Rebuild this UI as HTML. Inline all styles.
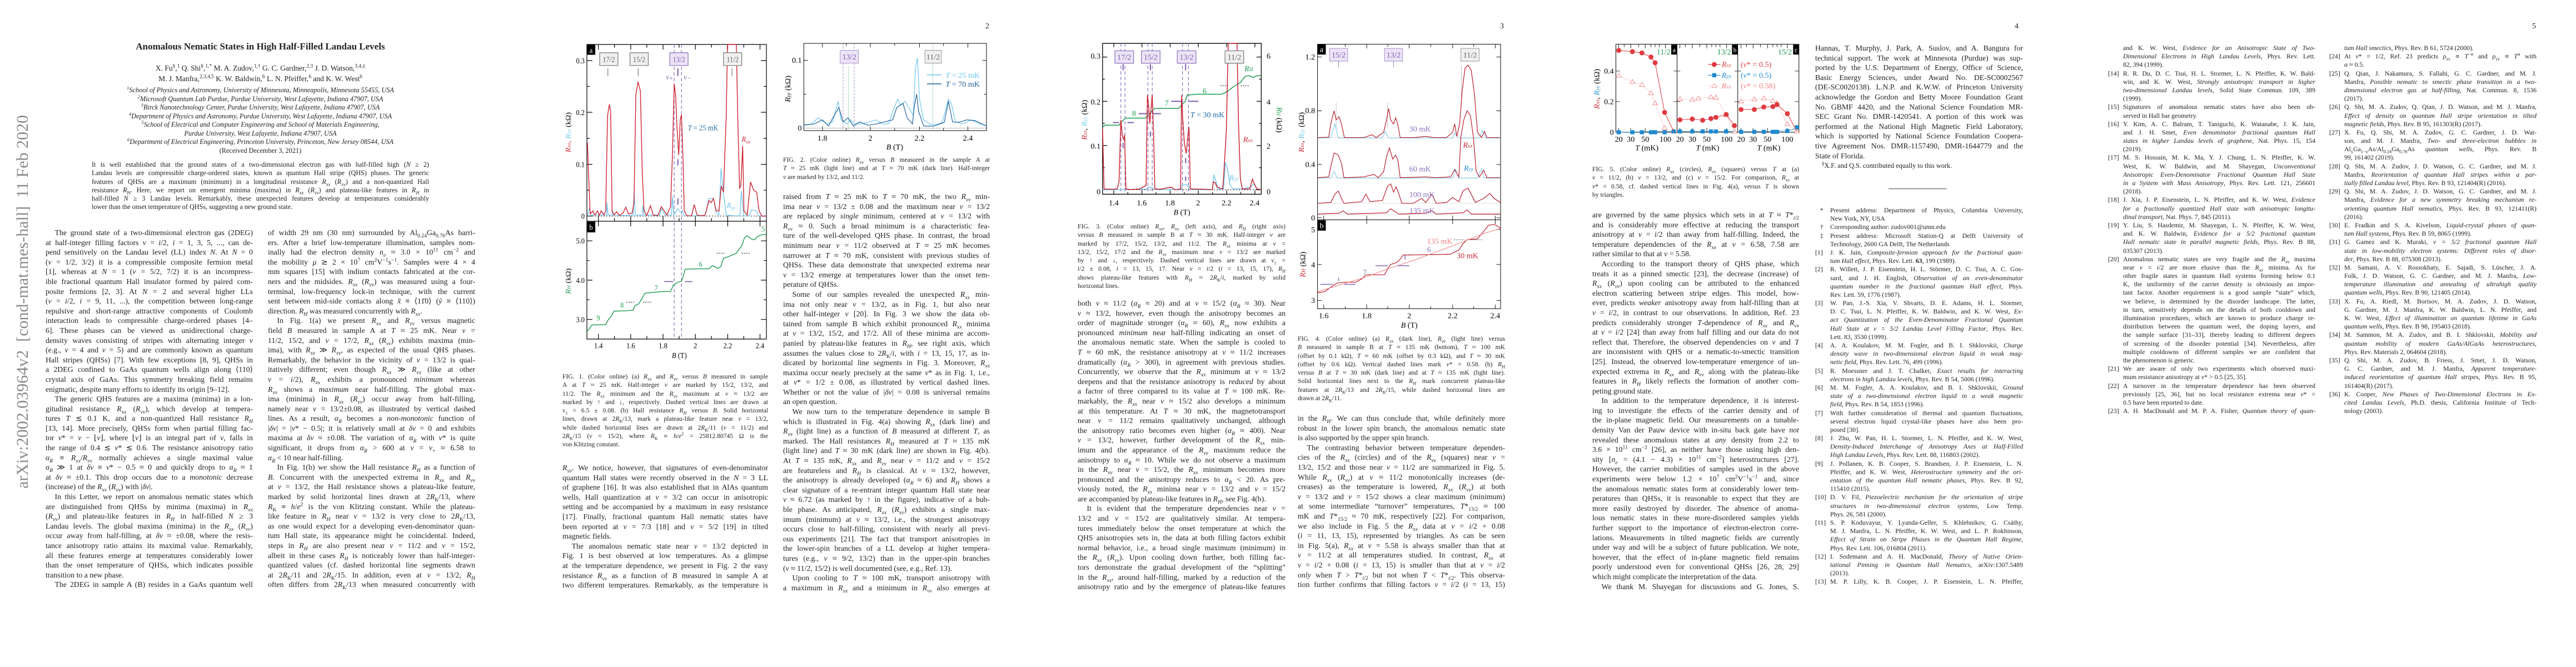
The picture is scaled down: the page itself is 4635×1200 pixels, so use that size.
<!DOCTYPE html>
<html><head><meta charset="utf-8">
<style>
*{margin:0;padding:0;box-sizing:border-box}
html,body{width:4635px;height:1200px;background:#fff;overflow:hidden}
body{position:relative;font-family:"Liberation Serif",serif;color:#222}
.c{position:absolute;font-size:13.8px}
.c div{text-align:justify;text-align-last:justify;overflow:hidden;white-space:normal}
.c div.l{text-align-last:left}
.c div.i{text-indent:1.2em}
.cap{position:absolute;font-size:11.6px}
.cap div{text-align:justify;text-align-last:justify;height:15.3px;line-height:15.3px;overflow:hidden}
.cap div.l{text-align-last:left}
.r{position:absolute;font-size:11.8px}
.r div{text-align:justify;text-align-last:justify;overflow:hidden;padding-left:27px;position:relative}
.r div.l{text-align-last:left}
.r div b{font-weight:normal;position:absolute;left:0;top:0}
sub,sup{font-size:70%;line-height:0}
.pn{position:absolute;top:40px;font-size:14px}
svg{position:absolute;overflow:visible}
svg text{font-family:"Liberation Serif",serif}
</style></head><body>

<!-- arXiv stamp -->
<div style="position:absolute;left:41px;top:543px;transform:translate(-50%,-50%) rotate(-90deg);white-space:nowrap;font-size:30px;color:#8a8a8a">arXiv:2002.03964v2&nbsp; [cond-mat.mes-hall]&nbsp; 11 Feb 2020</div>

<!-- PAGE 1 header -->
<div style="position:absolute;left:82px;width:773px;top:74px;text-align:center;font-weight:bold;font-size:17px">Anomalous Nematic States in High Half-Filled Landau Levels</div>
<div style="position:absolute;left:82px;width:773px;top:113px;text-align:center;font-size:13.5px;line-height:19px">X. Fu<sup>§</sup>,<sup>1</sup> Q. Shi<sup>§</sup>,<sup>1,*</sup> M. A. Zudov,<sup>1,†</sup> G. C. Gardner,<sup>2,3</sup> J. D. Watson,<sup>3,4,‡</sup><br>M. J. Manfra,<sup>2,3,4,5</sup> K. W. Baldwin,<sup>6</sup> L. N. Pfeiffer,<sup>6</sup> and K. W. West<sup>6</sup></div>
<div style="position:absolute;left:82px;width:773px;top:155px;text-align:center;font-size:12.3px;line-height:15.5px;font-style:italic"><sup>1</sup>School of Physics and Astronomy, University of Minnesota, Minneapolis, Minnesota 55455, USA<br><sup>2</sup>Microsoft Quantum Lab Purdue, Purdue University, West Lafayette, Indiana 47907, USA<br><sup>3</sup>Birck Nanotechnology Center, Purdue University, West Lafayette, Indiana 47907, USA<br><sup>4</sup>Department of Physics and Astronomy, Purdue University, West Lafayette, Indiana 47907, USA<br><sup>5</sup>School of Electrical and Computer Engineering and School of Materials Engineering,<br>Purdue University, West Lafayette, Indiana 47907, USA<br><sup>6</sup>Department of Electrical Engineering, Princeton University, Princeton, New Jersey 08544, USA<br><span style="font-style:normal">(Received December 3, 2021)</span></div>
<div class="cap" style="left:165px;width:607px;top:289px;font-size:12.2px">
<div>It is well established that the ground states of a two-dimensional electron gas with half-filled high (<i>N</i> ≥ 2)</div>
<div>Landau levels are compressible charge-ordered states, known as quantum Hall stripe (QHS) phases. The generic</div>
<div>features of QHSs are a maximum (minimum) in a longitudinal resistance <i>R<sub>xx</sub></i> (<i>R<sub>yy</sub></i>) and a non-quantized Hall</div>
<div>resistance <i>R<sub>H</sub></i>. Here, we report on emergent minima (maxima) in <i>R<sub>xx</sub></i> (<i>R<sub>yy</sub></i>) and plateau-like features in <i>R<sub>H</sub></i> in</div>
<div>half-filled <i>N</i> ≥ 3 Landau levels. Remarkably, these unexpected features develop at temperatures considerably</div>
<div class="l">lower than the onset temperature of QHSs, suggesting a new ground state.</div>
</div>

<div class="c" style="left:82px;width:373px;top:410px;line-height:17.8px">
<div class="i">The ground state of a two-dimensional electron gas (2DEG)</div>
<div>at half-integer filling factors <i>ν</i> = <i>i</i>/2, <i>i</i> = 1, 3, 5, ..., can de-</div>
<div>pend sensitively on the Landau level (LL) index <i>N</i>. At <i>N</i> = 0</div>
<div>(<i>ν</i> = 1/2, 3/2) it is a compressible composite fermion metal</div>
<div>[1], whereas at <i>N</i> = 1 (<i>ν</i> = 5/2, 7/2) it is an incompress-</div>
<div>ible fractional quantum Hall insulator formed by paired com-</div>
<div>posite fermions [2, 3]. At <i>N</i> = 2 and several higher LLs</div>
<div>(<i>ν</i> = <i>i</i>/2, <i>i</i> = 9, 11, ...), the competition between long-range</div>
<div>repulsive and short-range attractive components of Coulomb</div>
<div>interaction leads to compressible charge-ordered phases [4–</div>
<div>6]. These phases can be viewed as unidirectional charge-</div>
<div>density waves consisting of stripes with alternating integer <i>ν</i></div>
<div>(e.g., <i>ν</i> = 4 and <i>ν</i> = 5) and are commonly known as quantum</div>
<div>Hall stripes (QHSs) [7]. With few exceptions [8, 9], QHSs in</div>
<div>a 2DEG confined to GaAs quantum wells align along ⟨110⟩</div>
<div>crystal axis of GaAs. This symmetry breaking field remains</div>
<div class="l">enigmatic, despite many efforts to identify its origin [9–12].</div>
<div class="i">The generic QHS features are a maxima (minima) in a lon-</div>
<div>gitudinal resistance <i>R<sub>xx</sub></i> (<i>R<sub>yy</sub></i>), which develop at tempera-</div>
<div>tures <i>T</i> ≲ 0.1 K, and a non-quantized Hall resistance <i>R<sub>H</sub></i></div>
<div>[13, 14]. More precisely, QHSs form when partial filling fac-</div>
<div>tor <i>ν</i>* = <i>ν</i> − ⌊<i>ν</i>⌋, where ⌊<i>ν</i>⌋ is an integral part of <i>ν</i>, falls in</div>
<div>the range of 0.4 ≲ <i>ν</i>* ≲ 0.6. The resistance anisotropy ratio</div>
<div><i>α<sub>R</sub></i> ≡ <i>R<sub>xx</sub></i>/<i>R<sub>yy</sub></i> normally achieves a single maximal value</div>
<div><i>α<sub>R</sub></i> ≫ 1 at <i>δν</i> ≡ <i>ν</i>* − 0.5 ≈ 0 and quickly drops to <i>α<sub>R</sub></i> ≈ 1</div>
<div>at <i>δν</i> ≈ ±0.1. This drop occurs due to a <i>monotonic</i> decrease</div>
<div class="l">(increase) of the <i>R<sub>xx</sub></i> (<i>R<sub>yy</sub></i>) with |<i>δν</i>|.</div>
<div class="i">In this Letter, we report on anomalous nematic states which</div>
<div>are distinguished from QHSs by minima (maxima) in <i>R<sub>xx</sub></i></div>
<div>(<i>R<sub>yy</sub></i>) and plateau-like features in <i>R<sub>H</sub></i> in half-filled <i>N</i> ≥ 3</div>
<div>Landau levels. The global maxima (minima) in the <i>R<sub>xx</sub></i> (<i>R<sub>yy</sub></i>)</div>
<div>occur away from half-filling, at <i>δν</i> ≈ ±0.08, where the resis-</div>
<div>tance anisotropy ratio attains its maximal value. Remarkably,</div>
<div>all these features emerge at temperatures considerably lower</div>
<div>than the onset temperature of QHSs, which indicates possible</div>
<div class="l">transition to a new phase.</div>
<div class="i">The 2DEG in sample A (B) resides in a GaAs quantum well</div>
</div>

<div class="c" style="left:482px;width:373px;top:410px;line-height:17.8px">
<div>of width 29 nm (30 nm) surrounded by Al<sub>0.24</sub>Ga<sub>0.76</sub>As barri-</div>
<div>ers. After a brief low-temperature illumination, samples nom-</div>
<div>inally had the electron density <i>n<sub>e</sub></i> ≈ 3.0 × 10<sup>11</sup> cm<sup>−2</sup> and</div>
<div>the mobility <i>μ</i> ≳ 2 × 10<sup>7</sup> cm<sup>2</sup>V<sup>−1</sup>s<sup>−1</sup>. Samples were 4 × 4</div>
<div>mm squares [15] with indium contacts fabricated at the cor-</div>
<div>ners and the midsides. <i>R<sub>xx</sub></i> (<i>R<sub>yy</sub></i>) was measured using a four-</div>
<div>terminal, low-frequency lock-in technique, with the current</div>
<div>sent between mid-side contacts along <i>x̂</i> ≡ ⟨11̄0⟩ (<i>ŷ</i> ≡ ⟨110⟩)</div>
<div class="l">direction. <i>R<sub>H</sub></i> was measured concurrently with <i>R<sub>xx</sub></i>.</div>
<div class="i">In Fig. 1(a) we present <i>R<sub>xx</sub></i> and <i>R<sub>yy</sub></i> versus magnetic</div>
<div>field <i>B</i> measured in sample A at <i>T</i> ≈ 25 mK. Near <i>ν</i> =</div>
<div>11/2, 15/2, and <i>ν</i> = 17/2, <i>R<sub>xx</sub></i> (<i>R<sub>yy</sub></i>) exhibits maxima (min-</div>
<div>ima), with <i>R<sub>xx</sub></i> ≫ <i>R<sub>yy</sub></i>, as expected of the usual QHS phases.</div>
<div>Remarkably, the behavior in the vicinity of <i>ν</i> = 13/2 is qual-</div>
<div>itatively different; even though <i>R<sub>xx</sub></i> ≫ <i>R<sub>yy</sub></i> (like at other</div>
<div><i>ν</i> = <i>i</i>/2), <i>R<sub>xx</sub></i> exhibits a pronounced <i>minimum</i> whereas</div>
<div><i>R<sub>yy</sub></i> shows a <i>maximum</i> near half-filling. The global max-</div>
<div>ima (minima) in <i>R<sub>xx</sub></i> (<i>R<sub>yy</sub></i>) occur away from half-filling,</div>
<div>namely near <i>ν</i> = 13/2±0.08, as illustrated by vertical dashed</div>
<div>lines. As a result, <i>α<sub>R</sub></i> becomes a <i>non-monotonic</i> function of</div>
<div>|<i>δν</i>| = |<i>ν</i>* − 0.5|; it is relatively small at <i>δν</i> = 0 and exhibits</div>
<div>maxima at <i>δν</i> ≈ ±0.08. The variation of <i>α<sub>R</sub></i> with <i>ν</i>* is quite</div>
<div>significant, it drops from <i>α<sub>R</sub></i> &gt; 600 at <i>ν</i> = <i>ν</i><sub>+</sub> ≈ 6.58 to</div>
<div class="l"><i>α<sub>R</sub></i> &lt; 10 near half-filling.</div>
<div class="i">In Fig. 1(b) we show the Hall resistance <i>R<sub>H</sub></i> as a function of</div>
<div><i>B</i>. Concurrent with the unexpected extrema in <i>R<sub>xx</sub></i> and <i>R<sub>yy</sub></i></div>
<div>at <i>ν</i> = 13/2, the Hall resistance shows a plateau-like feature,</div>
<div>marked by solid horizontal lines drawn at 2<i>R</i><sub>K</sub>/13, where</div>
<div><i>R</i><sub>K</sub> ≡ <i>h</i>/<i>e</i><sup>2</sup> is the von Klitzing constant. While the plateau-</div>
<div>like feature in <i>R<sub>H</sub></i> near <i>ν</i> = 13/2 is very close to 2<i>R</i><sub>K</sub>/13,</div>
<div>as one would expect for a developing even-denominator quan-</div>
<div>tum Hall state, its appearance might be coincidental. Indeed,</div>
<div>steps in <i>R<sub>H</sub></i> are also present near <i>ν</i> = 11/2 and <i>ν</i> = 15/2,</div>
<div>albeit in these cases <i>R<sub>H</sub></i> is noticeably lower than half-integer-</div>
<div>quantized values (cf. dashed horizontal line segments drawn</div>
<div>at 2<i>R</i><sub>K</sub>/11 and 2<i>R</i><sub>K</sub>/15. In addition, even at <i>ν</i> = 13/2, <i>R<sub>H</sub></i></div>
<div>often differs from 2<i>R</i><sub>K</sub>/13 when measured concurrently with</div>
</div>

<!-- PAGE 2 -->
<div class="pn" style="left:1773px">2</div>

<!-- Fig 1 -->
<svg style="left:1056px;top:80px" width="323" height="530" viewBox="182 55 983 1425" preserveAspectRatio="none">
<g fill="none" stroke="#000" stroke-width="1.2" vector-effect="non-scaling-stroke">
<rect x="182" y="55" width="983" height="1425" vector-effect="non-scaling-stroke"/>
<line x1="182" y1="910" x2="1165" y2="910" vector-effect="non-scaling-stroke"/>
<path vector-effect="non-scaling-stroke" d="M245 55v25M422 55v25M599 55v25M776 55v25M953 55v25M1130 55v25M245 910v-25M422 910v-25M599 910v-25M776 910v-25M953 910v-25M1130 910v-25M245 910v25M422 910v25M599 910v25M776 910v25M953 910v25M1130 910v25M245 1480v-25M422 1480v-25M599 1480v-25M776 1480v-25M953 1480v-25M1130 1480v-25M333 55v15M510 55v15M687 55v15M864 55v15M1041 55v15M333 1480v-15M510 1480v-15M687 1480v-15M864 1480v-15M1041 1480v-15M333 910v-15M510 910v-15M687 910v-15M864 910v-15M1041 910v-15M182 885h30M182 635h30M182 383h30M182 133h30M1165 885h-30M1165 635h-30M1165 383h-30M1165 133h-30M182 760h15M182 509h15M182 258h15M1165 760h-15M1165 509h-15M1165 258h-15M182 1385h30M182 1195h30M182 1005h30M1165 1385h-30M1165 1195h-30M1165 1005h-30M182 1290h15M182 1100h15M1165 1290h-15M1165 1100h-15"/>
</g>
<line x1="182" y1="885" x2="1165" y2="885" stroke="#000" stroke-dasharray="2,3" stroke-width="1" vector-effect="non-scaling-stroke"/>
<g stroke="#8a70c0" stroke-width="1.2" stroke-dasharray="6,4" vector-effect="non-scaling-stroke"><line x1="660" y1="55" x2="660" y2="1480" vector-effect="non-scaling-stroke"/><line x1="700" y1="55" x2="700" y2="1480" vector-effect="non-scaling-stroke"/></g>
<polyline fill="none" stroke="#6ec6ee" stroke-width="1.3" vector-effect="non-scaling-stroke" points="185,885 195,850 205,880 290,880 292,820 298,880 320,880 322,860 330,884 435,880 440,770 447,880 485,880 488,835 495,880 580,880 590,850 610,880 645,880 650,790 658,880 680,850 700,870 705,860 715,884 790,884 830,880 850,800 875,800 890,870 905,880 917,655 930,780 945,880 990,884 1020,884 1028,765 1040,884 1070,884 1085,855 1110,860 1125,884 1165,884"/>
<polyline fill="none" stroke="#cc2230" stroke-width="1.4" vector-effect="non-scaling-stroke" points="185,530 192,700 200,875 215,860 225,880 240,860 250,882 260,860 275,880 285,860 295,400 305,345 312,380 320,860 330,880 345,865 360,882 380,870 395,842 410,875 430,870 440,820 450,300 462,235 475,280 485,670 495,860 510,882 530,835 545,880 570,884 590,840 605,860 620,880 640,840 650,600 660,245 668,300 675,450 685,590 693,420 700,395 708,600 715,860 730,884 755,884 770,830 785,880 810,884 830,880 850,810 862,820 875,800 890,860 905,860 918,740 930,770 945,400 952,55 1000,55 1008,400 1018,750 1025,740 1035,545 1042,860 1060,880 1078,720 1095,760 1112,770 1125,860 1140,885 1165,885"/>
<polyline fill="none" stroke="#1e9a50" stroke-width="1.4" vector-effect="non-scaling-stroke" points="182,1445 210,1412 285,1410 300,1385 315,1370 330,1345 400,1343 435,1340 445,1318 465,1310 480,1290 500,1258 560,1253 600,1250 640,1250 655,1220 680,1205 700,1200 712,1170 720,1142 790,1140 850,1140 870,1125 900,1138 915,1130 930,1090 960,1080 1000,1065 1020,1040 1030,1030 1045,990 1060,980 1080,995 1100,1000 1115,985 1140,975 1165,975"/>
<g stroke="#7a5cb0" stroke-width="1.6" vector-effect="non-scaling-stroke"><line x1="605" y1="1202" x2="655" y2="1202" vector-effect="non-scaling-stroke"/><line x1="718" y1="1202" x2="760" y2="1202" vector-effect="non-scaling-stroke"/></g>
<g stroke="#000" stroke-dasharray="2,2" vector-effect="non-scaling-stroke"><line x1="398" y1="1302" x2="440" y2="1302" vector-effect="non-scaling-stroke"/><line x1="490" y1="1302" x2="535" y2="1302" vector-effect="non-scaling-stroke"/><line x1="893" y1="1065" x2="935" y2="1065" vector-effect="non-scaling-stroke"/><line x1="1030" y1="1065" x2="1072" y2="1065" vector-effect="non-scaling-stroke"/></g>
<g stroke-width="1.2" vector-effect="non-scaling-stroke">
<rect x="252" y="95" width="100" height="62" fill="#f0f0f0" stroke="#777" vector-effect="non-scaling-stroke"/>
<rect x="418" y="95" width="100" height="62" fill="#f0f0f0" stroke="#777" vector-effect="non-scaling-stroke"/>
<rect x="636" y="95" width="100" height="62" fill="#ece4f6" stroke="#8a70c0" vector-effect="non-scaling-stroke"/>
<rect x="930" y="95" width="100" height="62" fill="#f0f0f0" stroke="#777" vector-effect="non-scaling-stroke"/>
<path d="M297 170v38M463 170v38M977 170v38" stroke="#777" vector-effect="non-scaling-stroke"/>
<path d="M680 170v38M680 610v30M680 800v30" stroke="#7a5cb0" stroke-width="2" vector-effect="non-scaling-stroke"/>
</g>
<rect x="182" y="55" width="46" height="50" fill="#000"/><rect x="182" y="912" width="46" height="52" fill="#000"/>
<g font-size="38">
<text x="205" y="95" fill="#fff" text-anchor="middle">a</text><text x="205" y="952" fill="#fff" text-anchor="middle">b</text>
<g fill="#666" text-anchor="middle"><text x="302" y="140">17/2</text><text x="468" y="140">15/2</text><text x="980" y="140">11/2</text></g>
<text x="686" y="140" fill="#7a5cb0" text-anchor="middle">13/2</text>
<text x="615" y="225" fill="#7a5cb0" font-style="italic">ν₊</text><text x="712" y="225" fill="#7a5cb0" font-style="italic">ν₋</text>
<text x="735" y="470" fill="#1f6aa5"><tspan font-style="italic">T</tspan> = 25 mK</text>
<text x="1030" y="525" fill="#cc2230" font-style="italic">R<tspan font-size="26" dy="8">xx</tspan></text>
<text x="948" y="845" fill="#6ec6ee" font-style="italic">R<tspan font-size="26" dy="8">yy</tspan></text>
<g fill="#1e9a50"><text x="235" y="1390">9</text><text x="365" y="1328">8</text><text x="552" y="1245">7</text><text x="795" y="1130">6</text><text x="1138" y="960">5</text></g>
<g text-anchor="end"><text x="170" y="898">0</text><text x="170" y="648">0.1</text><text x="170" y="396">0.2</text><text x="170" y="146">0.3</text><text x="170" y="1398">3.0</text><text x="170" y="1208">4.0</text><text x="170" y="1018">5.0</text></g>
<g text-anchor="middle"><text x="245" y="1525">1.4</text><text x="422" y="1525">1.6</text><text x="599" y="1525">1.8</text><text x="776" y="1525">2</text><text x="953" y="1525">2.2</text><text x="1130" y="1525">2.4</text><text x="688" y="1572"><tspan font-style="italic">B</tspan> (T)</text></g>
<text transform="translate(92,480) rotate(-90)" text-anchor="middle"><tspan fill="#cc2230" font-style="italic">R<tspan font-size="26">xx</tspan></tspan><tspan fill="#cc2230">, </tspan><tspan fill="#6ec6ee" font-style="italic">R<tspan font-size="26">yy</tspan></tspan> (kΩ)</text>
<text transform="translate(92,1200) rotate(-90)" text-anchor="middle"><tspan fill="#1e9a50" font-style="italic">R<tspan font-size="26">H</tspan></tspan> (kΩ)</text>
</g>
</svg>

<div class="cap" style="left:1012px;width:370px;top:670px">
<div>FIG. 1. (Color online) (a) <i>R<sub>xx</sub></i> and <i>R<sub>yy</sub></i> versus <i>B</i> measured in sample</div>
<div>A at <i>T</i> ≈ 25 mK. Half-integer <i>ν</i> are marked by 15/2, 13/2, and</div>
<div>11/2. The <i>R<sub>xx</sub></i> minimum and the <i>R<sub>yy</sub></i> maximum at <i>ν</i> ≈ 13/2 are</div>
<div>marked by ↑ and ↓, respectively. Dashed vertical lines are drawn at</div>
<div><i>ν</i><sub>±</sub> = 6.5 ± 0.08. (b) Hall resistance <i>R<sub>H</sub></i> versus <i>B</i>. Solid horizontal</div>
<div>lines, drawn at 2<i>R</i><sub>K</sub>/13, mark a plateau-like feature near <i>ν</i> = 13/2,</div>
<div>while dashed horizontal lines are drawn at 2<i>R</i><sub>K</sub>/11 (<i>ν</i> = 11/2) and</div>
<div>2<i>R</i><sub>K</sub>/15 (<i>ν</i> = 15/2), where <i>R</i><sub>K</sub> ≡ <i>h</i>/<i>e</i><sup>2</sup> = 25812.80745 Ω is the</div>
<div class="l">von Klitzing constant.</div>
</div>

<div class="c" style="left:1012px;width:370px;top:833px;line-height:17.8px">
<div><i>R<sub>yy</sub></i>. We notice, however, that signatures of even-denominator</div>
<div>quantum Hall states were recently observed in the <i>N</i> = 3 LL</div>
<div>of graphene [16]. It was also established that in AlAs quantum</div>
<div>wells, Hall quantization at <i>ν</i> = 3/2 can occur in anisotropic</div>
<div>setting and be accompanied by a maximum in easy resistance</div>
<div>[17]. Finally, fractional quantum Hall nematic states have</div>
<div>been reported at <i>ν</i> = 7/3 [18] and <i>ν</i> = 5/2 [19] in tilted</div>
<div class="l">magnetic fields.</div>
<div class="i">The anomalous nematic state near <i>ν</i> = 13/2 depicted in</div>
<div>Fig. 1 is best observed at low temperatures. As a glimpse</div>
<div>at the temperature dependence, we present in Fig. 2 the easy</div>
<div>resistance <i>R<sub>yy</sub></i> as a function of <i>B</i> measured in sample A at</div>
<div>two different temperatures. Remarkably, as the temperature is</div>
</div>

<!-- SVG for fig2 & fig3 (zoom2 frame) -->
<svg style="left:1160px;top:0" width="1160" height="1200" viewBox="0 0 1560 1614">
<g font-size="19">
<!-- Fig 2 -->
<rect x="385" y="105" width="442" height="211" fill="none" stroke="#000" stroke-width="1.3"/>
<path d="M430 105v10M488 105v6M546 105v10M605 105v6M665 105v10M723 105v6M782 105v10M430 316v-10M488 316v-6M546 316v-10M605 316v-6M665 316v-10M723 316v-6M782 316v-10M385 146h10M385 228h6M827 146h-10M827 228h-6" stroke="#000" stroke-width="1.2"/>
<line x1="385" y1="310" x2="827" y2="310" stroke="#000" stroke-dasharray="1.5,2.5"/>
<line x1="480" y1="105" x2="480" y2="316" stroke="#8a70c0" stroke-dasharray="5,3"/>
<line x1="507" y1="105" x2="507" y2="316" stroke="#8a70c0" stroke-dasharray="5,3"/>
<line x1="493" y1="160" x2="493" y2="316" stroke="#1e9a50" stroke-dasharray="1.5,2"/>
<line x1="697" y1="105" x2="697" y2="316" stroke="#1e9a50" stroke-dasharray="1.5,2"/>
<rect x="473" y="122" width="44" height="31" fill="#ece4f6" stroke="#8a70c0"/>
<rect x="678" y="122" width="40" height="31" fill="#f0f0f0" stroke="#777"/>
<text x="495" y="144" text-anchor="middle" fill="#7a5cb0">13/2</text>
<text x="698" y="144" text-anchor="middle" fill="#666">11/2</text>
<line x1="683" y1="181" x2="718" y2="181" stroke="#6ec6ee" stroke-width="2"/>
<line x1="683" y1="203" x2="718" y2="203" stroke="#1f5f9a" stroke-width="2"/>
<text x="728" y="188" fill="#6ec6ee"><tspan font-style="italic">T</tspan> = 25 mK</text>
<text x="728" y="210" fill="#1f5f9a"><tspan font-style="italic">T</tspan> = 70 mK</text>
<polyline fill="none" stroke="#6ec6ee" stroke-width="1.6" points="385,300 400,302 420,285 440,300 455,295 468,245 475,290 490,300 498,290 508,300 520,300 540,296 560,290 575,300 590,300 600,270 612,240 620,255 630,245 640,262 650,280 655,165 660,140 665,240 675,290 690,300 705,302 720,296 735,240 742,250 752,295 770,300 790,290 810,300 827,303"/>
<polyline fill="none" stroke="#1f5f9a" stroke-width="1.6" points="385,303 410,300 430,290 445,305 458,280 470,260 480,295 492,285 505,305 520,295 540,303 560,300 580,295 600,290 610,260 625,250 635,285 648,300 652,260 658,228 663,270 675,305 700,305 725,296 735,245 745,295 760,296 780,290 800,292 827,305"/>
<g text-anchor="middle"><text x="430" y="340">1.8</text><text x="546" y="340">2</text><text x="665" y="340">2.2</text><text x="782" y="340">2.4</text><text x="605" y="362"><tspan font-style="italic">B</tspan> (T)</text></g>
<text x="380" y="152" text-anchor="end">0.1</text><text x="380" y="316" text-anchor="end">0</text>
<text transform="translate(352,215) rotate(-90)" text-anchor="middle"><tspan font-style="italic">R<tspan font-size="13">yy</tspan></tspan> (kΩ)</text>
</g>
<!-- Fig 3 -->
<g font-size="19">
<text x="1103" y="142" text-anchor="end">0.3</text><text x="1103" y="253" text-anchor="end">0.2</text><text x="1103" y="360" text-anchor="end">0.1</text><text x="1103" y="470" text-anchor="end">0</text>
<text x="1505" y="142">6</text><text x="1505" y="253">4</text><text x="1505" y="360">2</text><text x="1505" y="470">0</text>
<g text-anchor="middle"><text x="1135" y="497">1.4</text><text x="1203" y="497">1.6</text><text x="1271" y="497">1.8</text><text x="1339" y="497">2</text><text x="1408" y="497">2.2</text><text x="1476" y="497">2.4</text><text x="1300" y="520"><tspan font-style="italic">B</tspan> (T)</text></g>
<text transform="translate(1070,290) rotate(-90)" text-anchor="middle"><tspan fill="#cc2230" font-style="italic">R<tspan font-size="13">xx</tspan></tspan>, <tspan fill="#6ec6ee" font-style="italic">R<tspan font-size="13">yy</tspan></tspan> (kΩ)</text>
<text transform="translate(1530,290) rotate(90)" text-anchor="middle"><tspan fill="#1e9a50" font-style="italic">R<tspan font-size="13">H</tspan></tspan> (kΩ)</text>
</g>
<svg x="1108" y="105" width="384" height="365" viewBox="152 58 850 852" preserveAspectRatio="none" overflow="visible">
<rect x="152" y="58" width="850" height="852" fill="none" stroke="#000" stroke-width="1.3" vector-effect="non-scaling-stroke"/>
<path vector-effect="non-scaling-stroke" stroke="#000" stroke-width="1.2" d="M212 58v22M363 58v22M514 58v22M665 58v22M817 58v22M968 58v22M212 910v-22M363 910v-22M514 910v-22M665 910v-22M817 910v-22M968 910v-22M287 910v-12M438 910v-12M590 910v-12M741 910v-12M892 910v-12M152 885h25M152 635h25M152 385h25M152 135h25M1002 885h-25M1002 635h-25M1002 385h-25M1002 135h-25M152 760h12M152 510h12M152 260h12M1002 760h-12M1002 510h-12M1002 260h-12"/>
<line x1="152" y1="885" x2="1002" y2="885" stroke="#000" stroke-dasharray="2,3" vector-effect="non-scaling-stroke"/>
<g stroke="#8a70c0" stroke-dasharray="6,4" stroke-width="1.2"><path vector-effect="non-scaling-stroke" d="M250 58V910M272 58V910M395 58V910M418 58V910M580 58V910M612 58V910"/></g>
<g stroke="#7a5cb0" stroke-width="2"><path vector-effect="non-scaling-stroke" d="M207 505h33M285 505h35M345 455h50M418 455h47M520 385h52M615 385h50M262 175v35M408 175v35M597 175v35M262 620v30M408 555v30M597 705v30M597 810v25"/></g>
<g stroke="#000" stroke-dasharray="2,2"><path vector-effect="non-scaling-stroke" d="M783 297h42M893 297h42"/></g>
<polyline fill="none" stroke="#1e9a50" stroke-width="1.5" vector-effect="non-scaling-stroke" points="152,530 165,520 240,520 255,500 275,480 380,480 400,460 430,425 560,425 575,405 595,385 605,350 660,345 760,345 790,345 820,330 850,305 880,285 890,280 900,265 915,245 935,240 960,250 975,242 1002,240"/>
<polyline fill="none" stroke="#6ec6ee" stroke-width="1.4" vector-effect="non-scaling-stroke" points="152,885 240,885 270,884 390,880 400,870 420,875 440,884 570,884 580,860 600,855 615,870 630,884 740,884 748,800 760,840 770,880 800,880 810,730 820,760 835,860 850,880 890,880 945,870 965,850 980,880 1002,885"/>
<polyline fill="none" stroke="#cc2230" stroke-width="1.5" vector-effect="non-scaling-stroke" points="152,540 160,880 200,882 230,880 240,840 250,490 258,580 265,600 270,575 277,880 300,884 350,880 385,860 392,350 398,400 405,510 412,420 418,350 425,560 432,880 460,882 520,870 540,885 570,880 575,350 580,460 590,620 600,680 610,570 615,530 622,880 700,882 740,885 745,840 755,845 765,870 795,880 800,820 815,550 825,58 872,58 880,500 890,820 900,880 940,880 955,825 968,860 980,882 1002,882"/>
<g stroke-width="1.2">
<rect x="218" y="100" width="100" height="70" fill="#ece4f6" stroke="#8a70c0" vector-effect="non-scaling-stroke"/>
<rect x="360" y="100" width="100" height="70" fill="#ece4f6" stroke="#8a70c0" vector-effect="non-scaling-stroke"/>
<rect x="552" y="100" width="100" height="70" fill="#ece4f6" stroke="#8a70c0" vector-effect="non-scaling-stroke"/>
<rect x="808" y="100" width="100" height="70" fill="#f0f0f0" stroke="#777" vector-effect="non-scaling-stroke"/>
</g>
<g font-size="42">
<g fill="#7a5cb0" text-anchor="middle"><text x="268" y="150">17/2</text><text x="410" y="150">15/2</text><text x="602" y="150">13/2</text></g>
<text x="858" y="150" fill="#666" text-anchor="middle">11/2</text>
<g fill="#1e9a50"><text x="310" y="468">8</text><text x="485" y="410">7</text><text x="688" y="340">6</text><text x="912" y="215" font-style="italic">R<tspan font-size="28">H</tspan></text></g>
<text x="622" y="475" fill="#1f6aa5"><tspan font-style="italic">T</tspan> = 30 mK</text>
<text x="905" y="615" fill="#cc2230" font-style="italic">R<tspan font-size="28">xx</tspan></text>
<text x="830" y="832" fill="#6ec6ee" font-style="italic">R<tspan font-size="28">yy</tspan></text>
</g>
</svg>
</svg>

<div class="cap" style="left:1409px;width:372px;top:280px">
<div>FIG. 2. (Color online) <i>R<sub>yy</sub></i> versus <i>B</i> measured in the sample A at</div>
<div><i>T</i> ≈ 25 mK (light line) and at <i>T</i> ≈ 70 mK (dark line). Half-integer</div>
<div class="l"><i>ν</i> are marked by 13/2, and 11/2.</div>
</div>

<div class="c" style="left:1409px;width:372px;top:345px;line-height:17.6px">
<div>raised from <i>T</i> ≈ 25 mK to <i>T</i> ≈ 70 mK, the two <i>R<sub>yy</sub></i> min-</div>
<div>ima near <i>ν</i> = 13/2 ± 0.08 and the maximum near <i>ν</i> = 13/2</div>
<div>are replaced by <i>single</i> minimum, centered at <i>ν</i> = 13/2 with</div>
<div><i>R<sub>yy</sub></i> ≈ 0. Such a broad minimum is a characteristic fea-</div>
<div>ture of the well-developed QHS phase. In contrast, the broad</div>
<div>minimum near <i>ν</i> = 11/2 observed at <i>T</i> ≈ 25 mK becomes</div>
<div>narrower at <i>T</i> ≈ 70 mK, consistent with previous studies of</div>
<div>QHSs. These data demonstrate that unexpected extrema near</div>
<div><i>ν</i> = 13/2 emerge at temperatures lower than the onset tem-</div>
<div class="l">perature of QHSs.</div>
<div class="i">Some of our samples revealed the unexpected <i>R<sub>xx</sub></i> min-</div>
<div>ima not only near <i>ν</i> = 13/2, as in Fig. 1, but also near</div>
<div>other half-integer <i>ν</i> [20]. In Fig. 3 we show the data ob-</div>
<div>tained from sample B which exhibit pronounced <i>R<sub>xx</sub></i> minima</div>
<div>at <i>ν</i> = 13/2, 15/2, and 17/2. All of these minima are accom-</div>
<div>panied by plateau-like features in <i>R<sub>H</sub></i>, see right axis, which</div>
<div>assumes the values close to 2<i>R</i><sub>K</sub>/<i>i</i>, with <i>i</i> = 13, 15, 17, as in-</div>
<div>dicated by horizontal line segments in Fig. 3. Moreover, <i>R<sub>xx</sub></i></div>
<div>maxima occur nearly precisely at the same <i>ν</i>* as in Fig. 1, i.e.,</div>
<div>at <i>ν</i>* = 1/2 ± 0.08, as illustrated by vertical dashed lines.</div>
<div>Whether or not the value of |<i>δν</i>| = 0.08 is universal remains</div>
<div class="l">an open question.</div>
<div class="i">We now turn to the temperature dependence in sample B</div>
<div>which is illustrated in Fig. 4(a) showing <i>R<sub>xx</sub></i> (dark line) and</div>
<div><i>R<sub>yy</sub></i> (light line) as a function of <i>B</i> measured at different <i>T</i>, as</div>
<div>marked. The Hall resistances <i>R<sub>H</sub></i> measured at <i>T</i> ≈ 135 mK</div>
<div>(light line) and <i>T</i> ≈ 30 mK (dark line) are shown in Fig. 4(b).</div>
<div>At <i>T</i> ≈ 135 mK, <i>R<sub>xx</sub></i> and <i>R<sub>yy</sub></i> near <i>ν</i> = 11/2 and <i>ν</i> = 15/2</div>
<div>are featureless and <i>R<sub>H</sub></i> is classical. At <i>ν</i> ≈ 13/2, however,</div>
<div>the anisotropy is already developed (<i>α<sub>R</sub></i> ≈ 6) and <i>R<sub>H</sub></i> shows a</div>
<div>clear signature of a re-entrant integer quantum Hall state near</div>
<div><i>ν</i> ≈ 6.72 (as marked by ↑ in the figure), indicative of a bub-</div>
<div>ble phase. As anticipated, <i>R<sub>xx</sub></i> (<i>R<sub>yy</sub></i>) exhibits a single max-</div>
<div>imum (minimum) at <i>ν</i> ≈ 13/2, i.e., the strongest anisotropy</div>
<div>occurs close to half-filling, consistent with nearly all previ-</div>
<div>ous experiments [21]. The fact that transport anisotropies in</div>
<div>the lower-spin branches of a LL develop at higher tempera-</div>
<div>tures (e.g., <i>ν</i> ≈ 9/2, 13/2) than in the upper-spin branches</div>
<div class="l">(<i>ν</i> ≈ 11/2, 15/2) is well documented (see, e.g., Ref. 13).</div>
<div class="i">Upon cooling to <i>T</i> ≈ 100 mK, transport anisotropy with</div>
<div>a maximum in <i>R<sub>xx</sub></i> and a minimum in <i>R<sub>yy</sub></i> also emerges at</div>
</div>

<!-- PAGE 3 -->
<div class="pn" style="left:2699px">3</div>

<div class="cap" style="left:1939px;width:374px;top:400px;font-size:11.6px">
<div>FIG. 3. (Color online) <i>R<sub>xx</sub></i>, <i>R<sub>yy</sub></i> (left axis), and <i>R<sub>H</sub></i> (right axis)</div>
<div>versus <i>B</i> measured in sample B at <i>T</i> ≈ 30 mK. Half-integer <i>ν</i> are</div>
<div>marked by 17/2, 15/2, 13/2, and 11/2. The <i>R<sub>xx</sub></i> minima at <i>ν</i> =</div>
<div>13/2, 15/2, 17/2 and the <i>R<sub>yy</sub></i> maximum near <i>ν</i> = 13/2 are marked</div>
<div>by ↑ and ↓, respectively. Dashed vertical lines are drawn at <i>ν</i><sub>±</sub> =</div>
<div><i>i</i>/2 ± 0.08, <i>i</i> = 13, 15, 17. Near <i>ν</i> = <i>i</i>/2 (<i>i</i> = 13, 15, 17), <i>R<sub>H</sub></i></div>
<div>shows plateau-like features with <i>R<sub>H</sub></i> ≈ 2<i>R</i><sub>K</sub>/<i>i</i>, marked by solid</div>
<div class="l">horizontal lines.</div>
</div>

<div class="c" style="left:1939px;width:374px;top:537px;line-height:17.6px">
<div>both <i>ν</i> ≈ 11/2 (<i>α<sub>R</sub></i> ≈ 20) and at <i>ν</i> ≈ 15/2 (<i>α<sub>R</sub></i> ≈ 30). Near</div>
<div><i>ν</i> ≈ 13/2, however, even though the anisotropy becomes an</div>
<div>order of magnitude stronger (<i>α<sub>R</sub></i> ≈ 60), <i>R<sub>xx</sub></i> now exhibits a</div>
<div>pronounced <i>minimum</i> near half-filling indicating an onset of</div>
<div>the anomalous nematic state. When the sample is cooled to</div>
<div><i>T</i> ≈ 60 mK, the resistance anisotropy at <i>ν</i> ≈ 11/2 increases</div>
<div>dramatically (<i>α<sub>R</sub></i> &gt; 300), in agreement with previous studies.</div>
<div>Concurrently, we observe that the <i>R<sub>xx</sub></i> minimum at <i>ν</i> ≈ 13/2</div>
<div>deepens and that the resistance anisotropy is <i>reduced</i> by about</div>
<div>a factor of three compared to its value at <i>T</i> ≈ 100 mK. Re-</div>
<div>markably, the <i>R<sub>xx</sub></i> near <i>ν</i> ≈ 15/2 also develops a minimum</div>
<div>at this temperature. At <i>T</i> ≈ 30 mK, the magnetotransport</div>
<div>near <i>ν</i> = 11/2 remains qualitatively unchanged, although</div>
<div>the anisotropy ratio becomes even higher (<i>α<sub>R</sub></i> ≈ 400). Near</div>
<div><i>ν</i> = 13/2, however, further development of the <i>R<sub>xx</sub></i> min-</div>
<div>imum and the appearance of the <i>R<sub>yy</sub></i> maximum reduce the</div>
<div>anisotropy to <i>α<sub>R</sub></i> ≈ 10. While we do not observe a maximum</div>
<div>in the <i>R<sub>yy</sub></i> near <i>ν</i> = 15/2, the <i>R<sub>xx</sub></i> minimum becomes more</div>
<div>pronounced and the anisotropy reduces to <i>α<sub>R</sub></i> &lt; 20. As pre-</div>
<div>viously noted, the <i>R<sub>xx</sub></i> minima near <i>ν</i> = 13/2 and <i>ν</i> = 15/2</div>
<div class="l">are accompanied by plateau-like features in <i>R<sub>H</sub></i>, see Fig. 4(b).</div>
<div class="i">It is evident that the temperature dependencies near <i>ν</i> =</div>
<div>13/2 and <i>ν</i> = 15/2 are qualitatively similar. At tempera-</div>
<div>tures immediately below the onset temperature at which the</div>
<div>QHS anisotropies sets in, the data at both filling factors exhibit</div>
<div>normal behavior, i.e., a broad single maximum (minimum) in</div>
<div>the <i>R<sub>xx</sub></i> (<i>R<sub>yy</sub></i>). Upon cooling down further, both filling fac-</div>
<div>tors demonstrate the gradual development of the “splitting”</div>
<div>in the <i>R<sub>xx</sub></i>, around half-filling, marked by a reduction of the</div>
<div>anisotropy ratio and by the emergence of plateau-like features</div>
</div>

<!-- SVG zoom3 frame: Fig4 and Fig5 -->
<svg style="left:2320px;top:0" width="1160" height="1200" viewBox="0 0 1560 1614">
<g font-size="19">
<!-- Fig 4 -->
<rect x="68" y="107" width="443" height="640" fill="none" stroke="#000" stroke-width="1.3"/>
<line x1="68" y1="532" x2="511" y2="532" stroke="#000" stroke-width="1.3"/>
<path stroke="#000" stroke-width="1.2" d="M83 107v10M187 107v10M290 107v10M395 107v10M498 107v10M135 107v6M238 107v6M342 107v6M446 107v6M83 532v-10M187 532v-10M290 532v-10M395 532v-10M498 532v-10M83 532v10M187 532v10M290 532v10M395 532v10M498 532v10M83 747v-10M187 747v-10M290 747v-10M395 747v-10M498 747v-10M135 747v-6M238 747v-6M342 747v-6M446 747v-6M68 138h10M68 268h10M68 398h10M68 527h10M511 138h-10M511 268h-10M511 398h-10M511 527h-10M68 555h10M68 640h10M68 727h10M511 555h-10M511 640h-10M511 727h-10"/>
<g stroke="#999" stroke-dasharray="1.5,2.5"><path d="M68 333h443M68 430h443M68 492h443M68 520h443"/></g>
<g stroke="#666" stroke-dasharray="2,2"><path d="M113 250v60M237 250v60M416 160v100"/></g>
<rect x="97" y="117" width="44" height="31" fill="#ece4f6" stroke="#8a70c0"/>
<rect x="230" y="117" width="44" height="31" fill="#ece4f6" stroke="#8a70c0"/>
<rect x="415" y="117" width="44" height="31" fill="#f0f0f0" stroke="#777"/>
<path d="M119 148v15M252 148v15" stroke="#7a5cb0"/>
<text x="119" y="139" text-anchor="middle" fill="#7a5cb0">15/2</text>
<text x="252" y="139" text-anchor="middle" fill="#7a5cb0">13/2</text>
<text x="437" y="139" text-anchor="middle" fill="#666">11/2</text>
<rect x="68" y="107" width="20" height="25" fill="#000"/><text x="78" y="126" fill="#fff" text-anchor="middle">a</text>
<rect x="68" y="533" width="20" height="25" fill="#000"/><text x="78" y="552" fill="#fff" text-anchor="middle">b</text>
<g fill="none" stroke="#6ec6ee" stroke-width="1.3">
<polyline points="68,334 100,334 110,300 118,334 225,334 232,318 240,334 395,334 400,322 410,334 460,334 467,315 475,334 511,334"/>
<polyline points="68,431 100,431 108,415 116,431 395,431 402,410 410,431 455,431 465,408 472,431 511,431"/>
</g>
<g fill="none" stroke="#b81c2c" stroke-width="1.6">
<polyline points="68,333 95,332 100,300 108,268 113,290 120,282 126,300 133,333 180,333 200,326 210,333 228,320 235,290 240,262 245,290 252,300 257,285 262,300 268,333 300,333 330,330 350,333 380,333 395,320 400,300 405,330 412,300 418,220 425,165 432,158 440,170 448,230 455,320 465,333 472,318 478,333 511,333"/>
<polyline points="68,430 95,428 102,395 108,370 118,375 126,395 132,430 180,428 205,422 215,430 228,415 236,375 242,358 250,385 257,375 263,390 268,430 330,428 355,430 390,428 400,410 410,428 415,330 422,290 430,268 438,280 445,330 452,415 460,428 470,412 478,430 511,430"/>
<polyline points="68,492 100,490 110,470 118,462 126,480 132,492 175,488 185,470 195,488 225,485 238,450 245,445 252,465 258,452 265,470 272,492 300,492 320,480 330,490 345,470 355,492 380,490 395,478 410,488 420,462 432,455 440,470 450,490 470,480 485,468 495,480 511,490"/>
<polyline points="68,518 120,516 130,510 140,518 235,515 245,505 255,512 265,518 330,516 345,510 355,518 420,515 430,508 440,518 511,518"/>
<polyline points="68,708 85,706 100,695 115,685 130,683 160,683 175,675 185,665 205,665 230,665 238,650 245,640 260,635 270,625 275,617 290,617 350,616 390,615 410,605 420,590 430,580 455,578 470,560 482,545 495,543 505,548 511,552"/>
</g>
<polyline fill="none" stroke="#f08080" stroke-width="1.4" points="68,706 120,690 180,672 240,650 300,630 360,608 420,585 470,565 511,553"/>
<g stroke="#7a5cb0" stroke-width="1.8"><path d="M75 688h30M133 688h27M208 643h30M262 643h28M119 680v-8M280 628v-10"/></g>
<g stroke="#000" stroke-dasharray="2,2"><path d="M398 580h25M440 580h28"/></g>
<g fill="#8a70c0"><text x="290" y="318">30 mK</text><text x="290" y="415">60 mK</text><text x="290" y="477">100 mK</text><text x="290" y="516">135 mK</text><text x="178" y="665">7</text><text x="333" y="610">6</text></g>
<text x="420" y="357" fill="#cc2230" font-style="italic">R<tspan font-size="13">xx</tspan></text>
<text x="422" y="413" fill="#1f8ad0" font-style="italic">R<tspan font-size="13">yy</tspan></text>
<text x="333" y="590" fill="#f08080">135 mK</text><text x="405" y="625" fill="#cc2230">30 mK</text>
<g text-anchor="end"><text x="62" y="144">1.2</text><text x="62" y="274">0.8</text><text x="62" y="404">0.4</text><text x="62" y="533">0</text><text x="62" y="562">5</text><text x="62" y="647">4</text><text x="62" y="733">3</text></g>
<g text-anchor="middle"><text x="83" y="770">1.6</text><text x="187" y="770">1.8</text><text x="290" y="770">2</text><text x="395" y="770">2.2</text><text x="498" y="770">2.4</text><text x="290" y="793"><tspan font-style="italic">B</tspan> (T)</text></g>
<text transform="translate(35,320) rotate(-90)" text-anchor="middle"><tspan fill="#cc2230" font-style="italic">R<tspan font-size="13">xx</tspan></tspan>, <tspan fill="#6ec6ee" font-style="italic">R<tspan font-size="13">yy</tspan></tspan> (kΩ)</text>
<text transform="translate(38,640) rotate(-90)" text-anchor="middle"><tspan fill="#cc2230" font-style="italic">R<tspan font-size="13">H</tspan></tspan> (kΩ)</text>

<!-- Fig 5 -->
<rect x="790" y="107" width="443" height="213" fill="none" stroke="#000" stroke-width="1.3"/>
<path stroke="#000" stroke-width="1.3" d="M938 107V320M1085 107V320"/>
<path stroke="#000" stroke-width="1.1" d="M797 107v10M810 107v7M826 107v10M845 107v7M861 107v10M875 107v7M885 107v7M895 107v7M910 107v10M945 107v10M958 107v7M975 107v10M993 107v7M1010 107v10M1022 107v7M1032 107v7M1042 107v7M1058 107v10M1093 107v10M1106 107v7M1122 107v10M1140 107v7M1157 107v10M1170 107v7M1180 107v7M1190 107v7M1205 107v10M797 320v-10M826 320v-10M861 320v-10M910 320v-10M945 320v-10M975 320v-10M1010 320v-10M1058 320v-10M1093 320v-10M1122 320v-10M1157 320v-10M1205 320v-10M790 172h10M790 246h10M938 172h-8M938 246h-8M938 172h8M938 246h8M1085 172h-8M1085 246h-8M1085 172h8M1085 246h8M1233 172h-10M1233 246h-10"/>
<g fill="none" stroke="#f08080" stroke-width="1" stroke-dasharray="2,2">
<polyline points="797,183 830,198 853,205 875,225 885,250 908,310 930,318"/>
<polyline points="945,240 975,241 990,238 1020,235 1032,236 1057,278 1077,318"/>
<polyline points="1093,245 1125,240 1148,238 1170,244 1180,250 1205,300 1228,318"/>
</g>
<g fill="#fff" stroke="#f08080" stroke-width="1.2">
<path d="M797,177l6,10h-12zM830,192l6,10h-12zM853,199l6,10h-12zM875,219l6,10h-12zM885,244l6,10h-12zM908,304l6,10h-12zM930,312l6,10h-12zM945,234l6,10h-12zM975,235l6,10h-12zM990,232l6,10h-12zM1020,229l6,10h-12zM1032,230l6,10h-12zM1057,272l6,10h-12zM1077,312l6,10h-12zM1093,239l6,10h-12zM1125,234l6,10h-12zM1148,232l6,10h-12zM1170,238l6,10h-12zM1180,244l6,10h-12zM1205,294l6,10h-12zM1228,312l6,10h-12z"/>
</g>
<g fill="none" stroke="#1f8ad0" stroke-width="1.3"><polyline points="797,320 930,318"/><polyline points="945,318 1077,318"/><polyline points="1093,319 1205,317 1228,310"/></g>
<g fill="#1f8ad0"><path d="M792 315h10v10h-10zM825 315h10v10h-10zM848 315h10v10h-10zM870 315h10v10h-10zM880 315h10v10h-10zM903 315h10v10h-10zM925 313h10v10h-10zM940 313h10v10h-10zM970 313h10v10h-10zM995 313h10v10h-10zM1015 313h10v10h-10zM1027 313h10v10h-10zM1052 313h10v10h-10zM1088 314h10v10h-10zM1120 314h10v10h-10zM1143 314h10v10h-10zM1165 314h10v10h-10zM1175 314h10v10h-10zM1200 312h10v10h-10zM1223 303h10v10h-10z"/></g>
<g fill="none" stroke="#e03a40" stroke-width="1.4">
<polyline points="797,122 830,125 853,128 875,138 885,152 908,272 930,318"/>
<polyline points="945,290 975,288 1000,291 1020,287 1032,284 1057,277 1077,304"/>
<polyline points="1093,265 1125,265 1148,259 1170,258 1180,253 1205,275 1228,318"/>
</g>
<g fill="#e03a40"><circle cx="797" cy="122" r="6"/><circle cx="830" cy="125" r="6"/><circle cx="853" cy="128" r="6"/><circle cx="875" cy="138" r="6"/><circle cx="885" cy="152" r="6"/><circle cx="908" cy="272" r="6"/><circle cx="945" cy="290" r="6"/><circle cx="975" cy="288" r="6"/><circle cx="1000" cy="291" r="6"/><circle cx="1020" cy="287" r="6"/><circle cx="1032" cy="284" r="6"/><circle cx="1057" cy="277" r="6"/><circle cx="1077" cy="304" r="6"/><circle cx="1093" cy="265" r="6"/><circle cx="1125" cy="265" r="6"/><circle cx="1148" cy="259" r="6"/><circle cx="1170" cy="258" r="6"/><circle cx="1180" cy="253" r="6"/><circle cx="1205" cy="275" r="6"/></g>
<line x1="1013" y1="156" x2="1043" y2="156" stroke="#e03a40" stroke-width="1.5"/><circle cx="1028" cy="156" r="6" fill="#e03a40"/>
<line x1="1013" y1="182" x2="1043" y2="182" stroke="#1f8ad0" stroke-width="1.5"/><rect x="1023" y="177" width="10" height="10" fill="#1f8ad0"/>
<line x1="1013" y1="208" x2="1043" y2="208" stroke="#f08080" stroke-dasharray="2,2"/><path d="M1028,202l6,10h-12z" fill="#fff" stroke="#f08080"/>
<text x="1046" y="162" fill="#e03a40" font-style="italic">R<tspan font-size="13">xx</tspan></text>
<text x="1046" y="188" fill="#1f8ad0" font-style="italic">R<tspan font-size="13">yy</tspan></text>
<text x="1046" y="214" fill="#f08080" font-style="italic">R<tspan font-size="13">xx</tspan></text>
<text x="1092" y="162" fill="#e03a40">(<tspan font-style="italic">ν</tspan>* = 0.5)</text>
<text x="1092" y="188" fill="#1f8ad0">(<tspan font-style="italic">ν</tspan>* = 0.5)</text>
<text x="1092" y="214" fill="#f08080">(<tspan font-style="italic">ν</tspan>* = 0.58)</text>
<g fill="#1e9a50" text-anchor="end"><text x="922" y="132">11/2</text><text x="1069" y="132">13/2</text><text x="1216" y="132">15/2</text></g>
<rect x="924" y="108" width="14" height="24" fill="#000"/><rect x="1071" y="108" width="14" height="24" fill="#000"/><rect x="1219" y="108" width="14" height="24" fill="#000"/>
<g fill="#fff" text-anchor="middle" font-size="16"><text x="931" y="126">a</text><text x="1078" y="126">b</text><text x="1226" y="126">c</text></g>
<g text-anchor="end"><text x="785" y="178">0.4</text><text x="785" y="252">0.2</text><text x="785" y="326">0</text></g>
<g text-anchor="middle"><text x="797" y="343">20</text><text x="826" y="343">30</text><text x="861" y="343">50</text><text x="910" y="343">100</text><text x="945" y="343">20</text><text x="975" y="343">30</text><text x="1010" y="343">50</text><text x="1058" y="343">100</text><text x="1093" y="343">20</text><text x="1122" y="343">30</text><text x="1157" y="343">50</text><text x="1205" y="343">100</text>
<text x="865" y="364"><tspan font-style="italic">T</tspan> (mK)</text><text x="1012" y="364"><tspan font-style="italic">T</tspan> (mK)</text><text x="1160" y="364"><tspan font-style="italic">T</tspan> (mK)</text></g>
<text transform="translate(750,215) rotate(-90)" text-anchor="middle"><tspan fill="#cc2230" font-style="italic">R<tspan font-size="13">xx</tspan></tspan>, <tspan fill="#1f8ad0" font-style="italic">R<tspan font-size="13">yy</tspan></tspan> (kΩ)</text>
</g>
<line x1="1450" y1="457" x2="1590" y2="457" stroke="#000" stroke-width="1"/>
</svg>

<div class="cap" style="left:2335px;width:373px;top:602px;font-size:11.6px">
<div>FIG. 4. (Color online) (a) <i>R<sub>xx</sub></i> (dark line), <i>R<sub>yy</sub></i> (light line) versus</div>
<div><i>B</i> measured in sample B at <i>T</i> ≈ 135 mK (bottom), <i>T</i> ≈ 100 mK</div>
<div>(offset by 0.1 kΩ), <i>T</i> ≈ 60 mK (offset by 0.3 kΩ), and <i>T</i> ≈ 30 mK</div>
<div>(offset by 0.6 kΩ). Vertical dashed lines mark <i>ν</i>* = 0.58. (b) <i>R<sub>H</sub></i></div>
<div>versus <i>B</i> at <i>T</i> ≈ 30 mK (dark line) and at <i>T</i> ≈ 135 mK (light line).</div>
<div>Solid horizontal lines next to the <i>R<sub>H</sub></i> mark concurrent plateau-like</div>
<div>features at 2<i>R</i><sub>K</sub>/13 and 2<i>R</i><sub>K</sub>/15, while dashed horizontal lines are</div>
<div class="l">drawn at 2<i>R</i><sub>K</sub>/11.</div>
</div>

<div class="c" style="left:2335px;width:373px;top:744px;line-height:17.9px">
<div>in the <i>R<sub>H</sub></i>. We can thus conclude that, while definitely more</div>
<div>robust in the lower spin branch, the anomalous nematic state</div>
<div class="l">is also supported by the upper spin branch.</div>
<div class="i">The contrasting behavior between temperature dependen-</div>
<div>cies of the <i>R<sub>xx</sub></i> (circles) and of the <i>R<sub>yy</sub></i> (squares) near <i>ν</i> =</div>
<div>13/2, 15/2 and those near <i>ν</i> = 11/2 are summarized in Fig. 5.</div>
<div>While <i>R<sub>xx</sub></i> (<i>R<sub>yy</sub></i>) at <i>ν</i> ≈ 11/2 monotonically increases (de-</div>
<div>creases) as the temperature is lowered, <i>R<sub>xx</sub></i> (<i>R<sub>yy</sub></i>) at both</div>
<div><i>ν</i> = 13/2 and <i>ν</i> = 15/2 shows a clear maximum (minimum)</div>
<div>at some intermediate “turnover” temperatures, <i>T</i>*<sub>13/2</sub> ≈ 100</div>
<div>mK and <i>T</i>*<sub>15/2</sub> ≈ 70 mK, respectively [22]. For comparison,</div>
<div>we also include in Fig. 5 the <i>R<sub>xx</sub></i> data at <i>ν</i> = <i>i</i>/2 + 0.08</div>
<div>(<i>i</i> = 11, 13, 15), represented by triangles. As can be seen</div>
<div>in Fig. 5(a), <i>R<sub>xx</sub></i> at <i>ν</i> = 5.58 is always smaller than that at</div>
<div><i>ν</i> = 11/2 at all temperatures studied. In contrast, <i>R<sub>xx</sub></i> at</div>
<div><i>ν</i> = <i>i</i>/2 + 0.08 (<i>i</i> = 13, 15) is smaller than that at <i>ν</i> = <i>i</i>/2</div>
<div><i>only</i> when <i>T</i> &gt; <i>T</i>*<sub><i>i</i>/2</sub> but not when <i>T</i> &lt; <i>T</i>*<sub><i>i</i>/2</sub>. This observa-</div>
<div>tion further confirms that filling factors <i>ν</i> = <i>i</i>/2 (<i>i</i> = 13, 15)</div>
</div>

<!-- PAGE 4 -->
<div class="pn" style="left:3625px">4</div>

<div class="cap" style="left:2865px;width:372px;top:297px;font-size:11.6px">
<div>FIG. 5. (Color online) <i>R<sub>xx</sub></i> (circles), <i>R<sub>yy</sub></i> (squares) versus <i>T</i> at (a)</div>
<div><i>ν</i> = 11/2, (b) <i>ν</i> = 13/2, and (c) <i>ν</i> = 15/2. For comparison, <i>R<sub>xx</sub></i> at</div>
<div><i>ν</i>* = 0.58, cf. dashed vertical lines in Fig. 4(a), versus <i>T</i> is shown</div>
<div class="l">by triangles.</div>
</div>

<div class="c" style="left:2865px;width:372px;top:378px;line-height:17.63px">
<div>are governed by the same physics which sets in at <i>T</i> ≈ <i>T</i>*<sub><i>i</i>/2</sub></div>
<div>and is considerably more effective at reducing the transport</div>
<div>anisotropy at <i>ν</i> = <i>i</i>/2 than away from half-filling. Indeed, the</div>
<div>temperature dependencies of the <i>R<sub>xx</sub></i> at <i>ν</i> = 6.58, 7.58 are</div>
<div class="l">rather similar to that at <i>ν</i> = 5.58.</div>
<div class="i">According to the transport theory of QHS phase, which</div>
<div>treats it as a pinned smectic [23], the decrease (increase) of</div>
<div><i>R<sub>xx</sub></i> (<i>R<sub>yy</sub></i>) upon cooling can be attributed to the enhanced</div>
<div>electron scattering between stripe edges. This model, how-</div>
<div>ever, predicts <i>weaker</i> anisotropy away from half-filling than at</div>
<div><i>ν</i> = <i>i</i>/2, in contrast to our observations. In addition, Ref. 23</div>
<div>predicts considerably stronger <i>T</i>-dependence of <i>R<sub>xx</sub></i> and <i>R<sub>yy</sub></i></div>
<div>at <i>ν</i> = <i>i</i>/2 [24] than away from half filling and our data do not</div>
<div>reflect that. Therefore, the observed dependencies on <i>ν</i> and <i>T</i></div>
<div>are inconsistent with QHS or a nematic-to-smectic transition</div>
<div>[25]. Instead, the observed low-temperature emergence of un-</div>
<div>expected extrema in <i>R<sub>xx</sub></i> and <i>R<sub>yy</sub></i> along with the plateau-like</div>
<div>features in <i>R<sub>H</sub></i> likely reflects the formation of another com-</div>
<div class="l">peting ground state.</div>
<div class="i">In addition to the temperature dependence, it is interest-</div>
<div>ing to investigate the effects of the carrier density and of</div>
<div>the in-plane magnetic field. Our measurements on a tunable-</div>
<div>density Van der Pauw device with in-situ back gate have <i>not</i></div>
<div>revealed these anomalous states at <i>any</i> density from 2.2 to</div>
<div>3.6 × 10<sup>11</sup> cm<sup>−2</sup> [26], as neither have those using high den-</div>
<div>sity [<i>n<sub>e</sub></i> = (4.1 − 4.3) × 10<sup>11</sup> cm<sup>−2</sup>] heterostructures [27].</div>
<div>However, the carrier mobilities of samples used in the above</div>
<div>experiments were below 1.2 × 10<sup>7</sup> cm<sup>2</sup>V<sup>−1</sup>s<sup>−1</sup> and, since</div>
<div>the anomalous nematic states form at considerably lower tem-</div>
<div>peratures than QHSs, it is reasonable to expect that they are</div>
<div>more easily destroyed by disorder. The absence of anoma-</div>
<div>lous nematic states in these more-disordered samples yields</div>
<div>further support to the importance of electron-electron corre-</div>
<div>lations. Measurements in tilted magnetic fields are currently</div>
<div>under way and will be a subject of future publication. We note,</div>
<div>however, that the effect of in-plane magnetic field remains</div>
<div>poorly understood even for conventional QHSs [26, 28, 29]</div>
<div class="l">which might complicate the interpretation of the data.</div>
<div class="i">We thank M. Shayegan for discussions and G. Jones, S.</div>
</div>

<div class="c" style="left:3266px;width:374px;top:78px;line-height:17.5px">
<div>Hannas, T. Murphy, J. Park, A. Suslov, and A. Bangura for</div>
<div>technical support. The work at Minnesota (Purdue) was sup-</div>
<div>ported by the U.S. Department of Energy, Office of Science,</div>
<div>Basic Energy Sciences, under Award No. DE-SC0002567</div>
<div>(DE-SC0020138). L.N.P. and K.W.W. of Princeton University</div>
<div>acknowledge the Gordon and Betty Moore Foundation Grant</div>
<div>No. GBMF 4420, and the National Science Foundation MR-</div>
<div>SEC Grant No. DMR-1420541. A portion of this work was</div>
<div>performed at the National High Magnetic Field Laboratory,</div>
<div>which is supported by National Science Foundation Coopera-</div>
<div>tive Agreement Nos. DMR-1157490, DMR-1644779 and the</div>
<div class="l">State of Florida.</div>
</div>
<div style="position:absolute;left:3278px;top:291px;font-size:12.3px"><sup>§</sup>X.F. and Q.S. contributed equally to this work.</div>

<div class="r" style="left:3266px;width:374px;top:371px;line-height:15.4px">
<div><b>&nbsp;&nbsp;&nbsp;*</b>Present address: Department of Physics, Columbia University,</div>
<div class="l">New York, NY, USA</div>
<div class="l"><b>&nbsp;&nbsp;&nbsp;†</b>Corresponding author: zudov001@umn.edu</div>
<div><b>&nbsp;&nbsp;&nbsp;‡</b>Present address: Microsoft Station-Q at Delft University of</div>
<div class="l">Technology, 2600 GA Delft, The Netherlands</div>
<div><b>[1]</b>J. K. Jain, <i>Composite-fermion approach for the fractional quan-</i></div>
<div class="l"><i>tum Hall effect</i>, Phys. Rev. Lett. <b style="position:static;font-weight:bold">63</b>, 199 (1989).</div>
<div><b>[2]</b>R. Willett, J. P. Eisenstein, H. L. Störmer, D. C. Tsui, A. C. Gos-</div>
<div>sard, and J. H. English, <i>Observation of an even-denominator</i></div>
<div><i>quantum number in the fractional quantum Hall effect</i>, Phys.</div>
<div class="l">Rev. Lett. 59, 1776 (1987).</div>
<div><b>[3]</b>W. Pan, J.-S. Xia, V. Shvarts, D. E. Adams, H. L. Stormer,</div>
<div>D. C. Tsui, L. N. Pfeiffer, K. W. Baldwin, and K. W. West, <i>Ex-</i></div>
<div><i>act Quantization of the Even-Denominator Fractional Quantum</i></div>
<div><i>Hall State at ν = 5/2 Landau Level Filling Factor</i>, Phys. Rev.</div>
<div class="l">Lett. 83, 3530 (1999).</div>
<div><b>[4]</b>A. A. Koulakov, M. M. Fogler, and B. I. Shklovskii, <i>Charge</i></div>
<div><i>density wave in two-dimensional electron liquid in weak mag-</i></div>
<div class="l"><i>netic field</i>, Phys. Rev. Lett. 76, 499 (1996).</div>
<div><b>[5]</b>R. Moessner and J. T. Chalker, <i>Exact results for interacting</i></div>
<div class="l"><i>electrons in high Landau levels</i>, Phys. Rev. B 54, 5006 (1996).</div>
<div><b>[6]</b>M. M. Fogler, A. A. Koulakov, and B. I. Shklovskii, <i>Ground</i></div>
<div><i>state of a two-dimensional electron liquid in a weak magnetic</i></div>
<div class="l"><i>field</i>, Phys. Rev. B 54, 1853 (1996).</div>
<div><b>[7]</b>With further consideration of thermal and quantum fluctuations,</div>
<div>several electron liquid crystal-like phases have also been pro-</div>
<div class="l">posed [30].</div>
<div><b>[8]</b>J. Zhu, W. Pan, H. L. Stormer, L. N. Pfeiffer, and K. W. West,</div>
<div><i>Density-Induced Interchange of Anisotropy Axes at Half-Filled</i></div>
<div class="l"><i>High Landau Levels</i>, Phys. Rev. Lett. 88, 116803 (2002).</div>
<div><b>[9]</b>J. Pollanen, K. B. Cooper, S. Brandsen, J. P. Eisenstein, L. N.</div>
<div>Pfeiffer, and K. W. West, <i>Heterostructure symmetry and the ori-</i></div>
<div><i>entation of the quantum Hall nematic phases</i>, Phys. Rev. B 92,</div>
<div class="l">115410 (2015).</div>
<div><b>[10]</b>D. V. Fil, <i>Piezoelectric mechanism for the orientation of stripe</i></div>
<div><i>structures in two-dimensional electron systems</i>, Low Temp.</div>
<div class="l">Phys. 26, 581 (2000).</div>
<div><b>[11]</b>S. P. Koduvayur, Y. Lyanda-Geller, S. Khlebnikov, G. Csáthy,</div>
<div>M. J. Manfra, L. N. Pfeiffer, K. W. West, and L. P. Rokhinson,</div>
<div><i>Effect of Strain on Stripe Phases in the Quantum Hall Regime</i>,</div>
<div class="l">Phys. Rev. Lett. 106, 016804 (2011).</div>
<div><b>[12]</b>I. Sodemann and A. H. MacDonald, <i>Theory of Native Orien-</i></div>
<div><i>tational Pinning in Quantum Hall Nematics</i>, arXiv:1307.5489</div>
<div class="l">(2013).</div>
<div><b>[13]</b>M. P. Lilly, K. B. Cooper, J. P. Eisenstein, L. N. Pfeiffer,</div>
</div>

<!-- PAGE 5 -->
<div class="pn" style="left:4556px">5</div>

<div class="r" style="left:3793px;width:373px;top:79px;line-height:15px">
<div>and K. W. West, <i>Evidence for an Anisotropic State of Two-</i></div>
<div><i>Dimensional Electrons in High Landau Levels</i>, Phys. Rev. Lett.</div>
<div class="l">82, 394 (1999).</div>
<div><b>[14]</b>R. R. Du, D. C. Tsui, H. L. Stormer, L. N. Pfeiffer, K. W. Bald-</div>
<div>win, and K. W. West, <i>Strongly anisotropic transport in higher</i></div>
<div><i>two-dimensional Landau levels</i>, Solid State Commun. 109, 389</div>
<div class="l">(1999).</div>
<div><b>[15]</b>Signatures of anomalous nematic states have also been ob-</div>
<div class="l">served in Hall bar geometry.</div>
<div><b>[16]</b>Y. Kim, A. C. Balram, T. Taniguchi, K. Watanabe, J. K. Jain,</div>
<div>and J. H. Smet, <i>Even denominator fractional quantum Hall</i></div>
<div><i>states in higher Landau levels of graphene</i>, Nat. Phys. 15, 154</div>
<div class="l">(2019).</div>
<div><b>[17]</b>M. S. Hossain, M. K. Ma, Y. J. Chung, L. N. Pfeiffer, K. W.</div>
<div>West, K. W. Baldwin, and M. Shayegan, <i>Unconventional</i></div>
<div><i>Anisotropic Even-Denominator Fractional Quantum Hall State</i></div>
<div><i>in a System with Mass Anisotropy</i>, Phys. Rev. Lett. 121, 256601</div>
<div class="l">(2018).</div>
<div><b>[18]</b>J. Xia, J. P. Eisenstein, L. N. Pfeiffer, and K. W. West, <i>Evidence</i></div>
<div><i>for a fractionally quantized Hall state with anisotropic longitu-</i></div>
<div class="l"><i>dinal transport</i>, Nat. Phys. 7, 845 (2011).</div>
<div><b>[19]</b>Y. Liu, S. Hasdemir, M. Shayegan, L. N. Pfeiffer, K. W. West,</div>
<div>and K. W. Baldwin, <i>Evidence for a 5/2 fractional quantum</i></div>
<div><i>Hall nematic state in parallel magnetic fields</i>, Phys. Rev. B 88,</div>
<div class="l">035307 (2013).</div>
<div><b>[20]</b>Anomalous nematic states are very fragile and the <i>R<sub>yy</sub></i> maxima</div>
<div>near <i>ν</i> = <i>i</i>/2 are more elusive than the <i>R<sub>xx</sub></i> minima. As for</div>
<div>other fragile states in quantum Hall systems forming below 0.1</div>
<div>K, the uniformity of the carrier density is obviously an impor-</div>
<div>tant factor. Another requirement is a good sample “state” which,</div>
<div>we believe, is determined by the disorder landscape. The latter,</div>
<div>in turn, sensitively depends on the details of both cooldown and</div>
<div>illumination procedures, which are known to produce charge re-</div>
<div>distribution between the quantum weel, the doping layers, and</div>
<div>the sample surface [31–33], thereby leading to different degrees</div>
<div>of screening of the disorder potential [34]. Nevertheless, after</div>
<div>multiple cooldowns of different samples we are confident that</div>
<div class="l">the phenomenon is generic.</div>
<div><b>[21]</b>We are aware of only two experiments which observed maxi-</div>
<div class="l">mum resistance anisotropy at <i>ν</i>* &gt; 0.5 [25, 35].</div>
<div><b>[22]</b>A turnover in the temperature dependence has been observed</div>
<div>previously [25, 36], but no local resistance extrema near <i>ν</i>* =</div>
<div class="l">0.5 have been reported to date.</div>
<div><b>[23]</b>A. H. MacDonald and M. P. A. Fisher, <i>Quantum theory of quan-</i></div>
</div>

<div class="r" style="left:4191px;width:373px;top:79px;line-height:15.1px">
<div class="l"><i>tum Hall smectics</i>, Phys. Rev. B 61, 5724 (2000).</div>
<div><b>[24]</b>At <i>ν</i>* = 1/2, Ref. 23 predicts <i>ρ<sub>xx</sub></i> ∝ <i>T</i><sup>−α</sup> and <i>ρ<sub>yy</sub></i> ∝ <i>T</i><sup>α</sup> with</div>
<div class="l"><i>α</i> ≈ 0.5.</div>
<div><b>[25]</b>Q. Qian, J. Nakamura, S. Fallahi, G. C. Gardner, and M. J.</div>
<div>Manfra, <i>Possible nematic to smectic phase transition in a two-</i></div>
<div><i>dimensional electron gas at half-filling</i>, Nat. Commun. 8, 1536</div>
<div class="l">(2017).</div>
<div><b>[26]</b>Q. Shi, M. A. Zudov, Q. Qian, J. D. Watson, and M. J. Manfra,</div>
<div><i>Effect of density on quantum Hall stripe orientation in tilted</i></div>
<div class="l"><i>magnetic fields</i>, Phys. Rev. B 95, 161303(R) (2017).</div>
<div><b>[27]</b>X. Fu, Q. Shi, M. A. Zudov, G. C. Gardner, J. D. Wat-</div>
<div>son, and M. J. Manfra, <i>Two- and three-electron bubbles in</i></div>
<div>Al<sub>x</sub>Ga<sub>1−x</sub>As/Al<sub>0.24</sub>Ga<sub>0.76</sub>As <i>quantum wells</i>, Phys. Rev. B</div>
<div class="l">99, 161402 (2019).</div>
<div><b>[28]</b>Q. Shi, M. A. Zudov, J. D. Watson, G. C. Gardner, and M. J.</div>
<div>Manfra, <i>Reorientation of quantum Hall stripes within a par-</i></div>
<div class="l"><i>tially filled Landau level</i>, Phys. Rev. B 93, 121404(R) (2016).</div>
<div><b>[29]</b>Q. Shi, M. A. Zudov, J. D. Watson, G. C. Gardner, and M. J.</div>
<div>Manfra, <i>Evidence for a new symmetry breaking mechanism re-</i></div>
<div><i>orienting quantum Hall nematics</i>, Phys. Rev. B 93, 121411(R)</div>
<div class="l">(2016).</div>
<div><b>[30]</b>E. Fradkin and S. A. Kivelson, <i>Liquid-crystal phases of quan-</i></div>
<div class="l"><i>tum Hall systems</i>, Phys. Rev. B 59, 8065 (1999).</div>
<div><b>[31]</b>G. Gamez and K. Muraki, <i>ν = 5/2 fractional quantum Hall</i></div>
<div><i>state in low-mobility electron systems: Different roles of disor-</i></div>
<div class="l"><i>der</i>, Phys. Rev. B 88, 075308 (2013).</div>
<div><b>[32]</b>M. Samani, A. V. Rossokhaty, E. Sajadi, S. Lüscher, J. A.</div>
<div>Folk, J. D. Watson, G. C. Gardner, and M. J. Manfra, <i>Low-</i></div>
<div><i>temperature illumination and annealing of ultrahigh quality</i></div>
<div class="l"><i>quantum wells</i>, Phys. Rev. B 90, 121405 (2014).</div>
<div><b>[33]</b>X. Fu, A. Riedl, M. Borisov, M. A. Zudov, J. D. Watson,</div>
<div>G. Gardner, M. J. Manfra, K. W. Baldwin, L. N. Pfeiffer, and</div>
<div>K. W. West, <i>Effect of illumination on quantum lifetime in GaAs</i></div>
<div class="l"><i>quantum wells</i>, Phys. Rev. B 98, 195403 (2018).</div>
<div><b>[34]</b>M. Sammon, M. A. Zudov, and B. I. Shklovskii, <i>Mobility and</i></div>
<div><i>quantum mobility of modern GaAs/AlGaAs heterostructures</i>,</div>
<div class="l">Phys. Rev. Materials 2, 064604 (2018).</div>
<div><b>[35]</b>Q. Shi, M. A. Zudov, B. Friess, J. Smet, J. D. Watson,</div>
<div>G. C. Gardner, and M. J. Manfra, <i>Apparent temperature-</i></div>
<div><i>induced reorientation of quantum Hall stripes</i>, Phys. Rev. B 95,</div>
<div class="l">161404(R) (2017).</div>
<div><b>[36]</b>K. Cooper, <i>New Phases of Two-Dimensional Electrons in Ex-</i></div>
<div><i>cited Landau Levels</i>, Ph.D. thesis, California Institute of Tech-</div>
<div class="l">nology (2003).</div>
</div>

<style>
.c div{height:17.6px}
.r div{height:15.2px}
</style>
</body></html>
